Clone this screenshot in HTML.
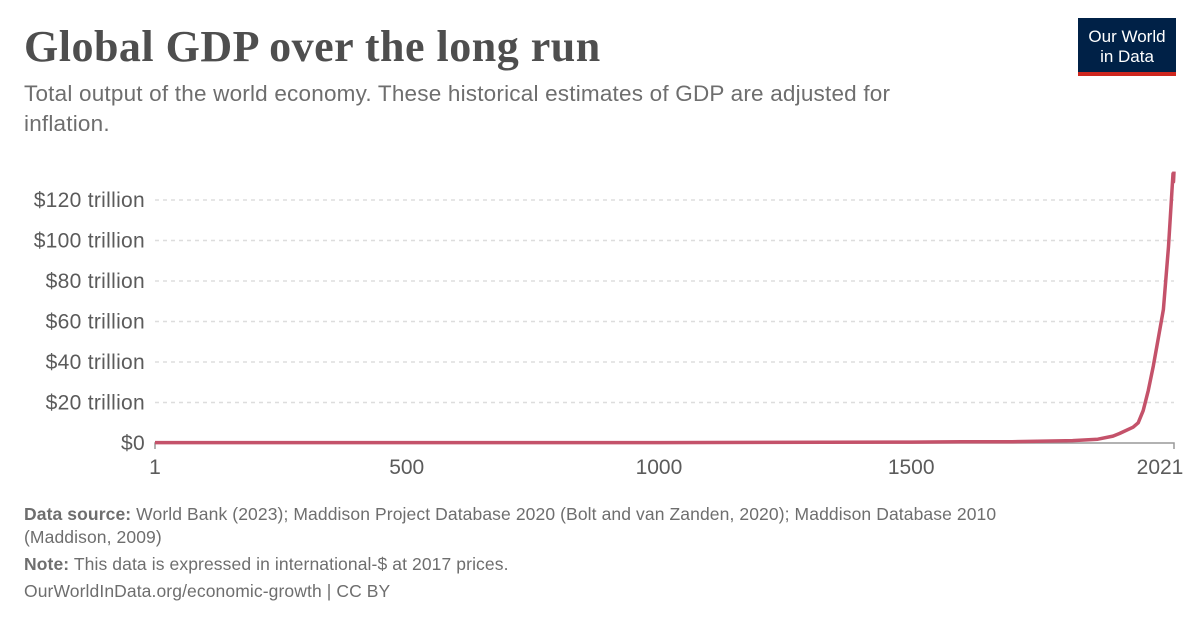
<!DOCTYPE html>
<html><head><meta charset="utf-8"><style>
body{margin:0;width:1200px;height:628px;background:#fff;font-family:"Liberation Sans",sans-serif;position:relative;overflow:hidden}
.t{position:absolute}
</style></head><body>
<div class="t" style="left:24px;top:21px;font-family:'Liberation Serif',serif;font-size:44px;font-weight:bold;color:#4e4e4e;letter-spacing:0.5px">Global GDP over the long run</div>
<div class="t" style="left:24px;top:79px;width:900px;font-size:22.5px;line-height:30px;color:#6e6e6e;letter-spacing:0.2px">Total output of the world economy. These historical estimates of GDP are adjusted for inflation.</div>
<div class="t" style="left:1078px;top:18px;width:98px;background:#002147;border-bottom:4px solid #ce261e;color:#fff;font-size:17px;line-height:20px;text-align:center;padding-top:9px;height:45px">Our World<br>in Data</div>
<svg class="t" style="left:0;top:0" width="1200" height="628" id="svg"></svg>
<div class="t" style="left:24px;top:503px;width:1060px;font-size:17.5px;line-height:23px;color:#6e6e6e;letter-spacing:0.1px">
<div><b>Data source:</b> World Bank (2023); Maddison Project Database 2020 (Bolt and van Zanden, 2020); Maddison Database 2010 (Maddison, 2009)</div>
<div style="margin-top:4px"><b>Note:</b> This data is expressed in international-$ at 2017 prices.</div>
<div style="margin-top:4px">OurWorldInData.org/economic-growth | CC BY</div>
</div>
<script>
const years=[1,1000,1500,1600,1700,1820,1870,1900,1913,1940,1950,1960,1970,1980,1990,2000,2010,2019,2020,2021];
const gdp=[0.2,0.21,0.43,0.6,0.64,1.2,1.9,3.4,4.7,7.8,10,16,26,38,52,66,97,133,129,134];
const yTicks=[0,20,40,60,80,100,120];
const yTickLabels=["$0","$20 trillion","$40 trillion","$60 trillion","$80 trillion","$100 trillion","$120 trillion"];
const xTicks=[1,500,1000,1500,2021];
const NS="http://www.w3.org/2000/svg",svg=document.getElementById('svg');
const X0=155,X1=1174,Y0=443,Y1=200;
const xs=v=>X0+(v-1)/(2020)*(X1-X0);
const ys=v=>Y0-v/120*(Y0-Y1);
function mk(t,a,p){const e=document.createElementNS(NS,t);for(const k in a)e.setAttribute(k,a[k]);(p||svg).appendChild(e);return e;}
yTicks.forEach((v,i)=>{
 if(v>0){const l=mk('line',{x1:X0,x2:X1,y1:ys(v),y2:ys(v),stroke:'#ddd','stroke-dasharray':'4 4','stroke-width':1.5});
 
 }
 const t=mk('text',{x:145,y:ys(v)+7,'text-anchor':'end','font-size':21,fill:'#5b5b5b','font-family':'Liberation Sans','letter-spacing':'0.3'});
 
 
 t.textContent=yTickLabels[i];
});
const ax=mk('path',{d:`M${X0} ${Y0+6}V${Y0}H${X1}V${Y0+6}`,stroke:'#999',fill:'none','stroke-width':1.5});


xTicks.forEach(v=>{
 const t=mk('text',{x:xs(v)-(v===2021?14:0),y:Y0+31,'text-anchor':'middle','font-size':21,fill:'#5b5b5b','font-family':'Liberation Sans'});
 
 
 t.textContent=v;
});
const d=years.map((y,i)=>(i?'L':'M')+xs(y).toFixed(1)+' '+ys(gdp[i]).toFixed(1)).join('');
const p=mk('path',{d:d,stroke:'#c4526a',fill:'none','stroke-width':3.5,'stroke-linejoin':'round'});


</script>
</body></html>
